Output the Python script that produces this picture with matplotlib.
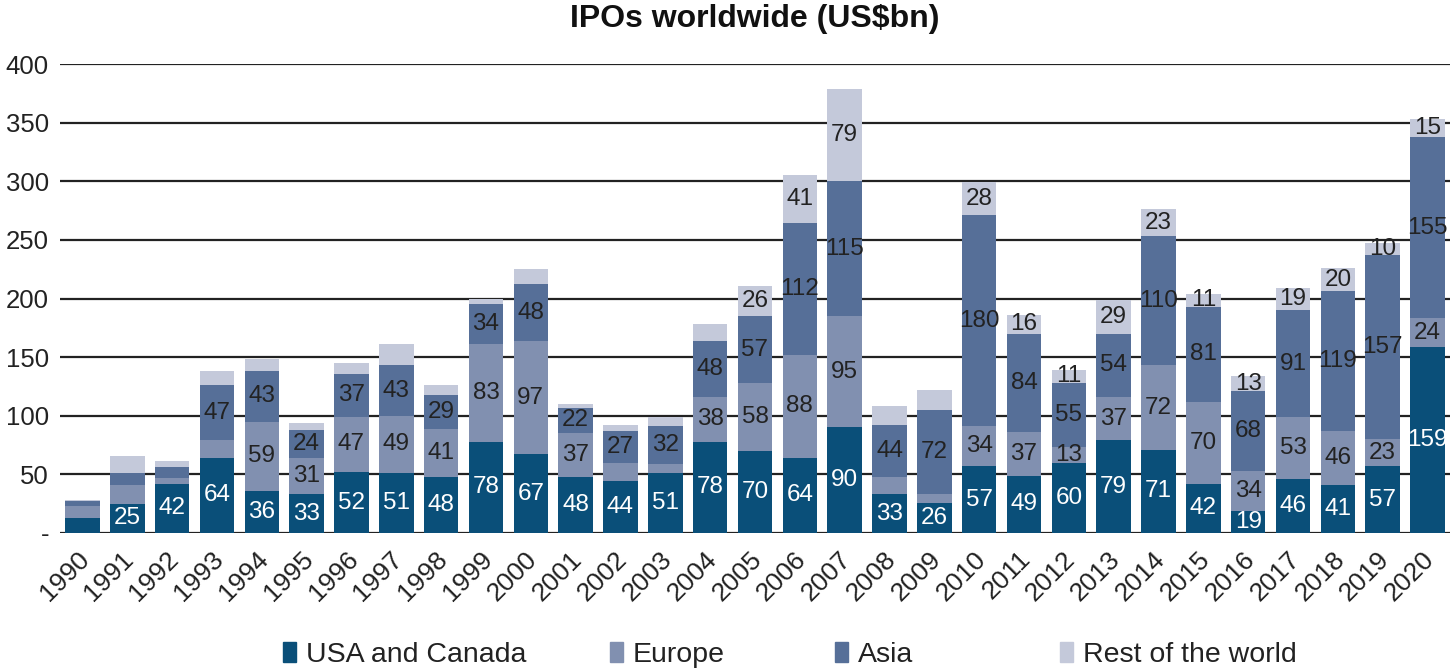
import matplotlib
matplotlib.use("Agg")
import matplotlib.pyplot as plt
from matplotlib.patches import Rectangle
from matplotlib.transforms import ScaledTranslation

plt.rcParams['font.family'] = ['Liberation Sans', 'DejaVu Sans']

years = [str(y) for y in range(1990, 2021)]
usa = [13, 25, 42, 64, 36, 33, 52, 51, 48, 78, 67, 48, 44, 51, 78, 70, 64, 90, 33, 26,
       57, 49, 60, 79, 71, 42, 19, 46, 41, 57, 159]
europe = [10, 16, 5, 15, 59, 31, 47, 49, 41, 83, 97, 37, 16, 8, 38, 58, 88, 95, 15, 7,
          34, 37, 13, 37, 72, 70, 34, 53, 46, 23, 24]
asia = [4, 10, 9, 47, 43, 24, 37, 43, 29, 34, 48, 22, 27, 32, 48, 57, 112, 115, 44, 72,
        180, 84, 55, 54, 110, 81, 68, 91, 119, 157, 155]
rest = [1, 15, 5, 12, 10, 6, 9, 18, 8, 5, 13, 3, 5, 8, 14, 26, 41, 79, 16, 17,
        28, 16, 11, 29, 23, 11, 13, 19, 20, 10, 15]

# which segment values are printed on the chart
usa_shown = [False] + [True] * 30
europe_shown = [False, False, False, False, True, True, True, True, True, True, True, True,
                False, False, True, True, True, True, False, False] + [True] * 11
asia_shown = [False, False, False] + [True] * 28
rest_shown = [False] * 15 + [True, True, True, False, False] + [True] * 11

series_names = ["USA and Canada", "Europe", "Asia", "Rest of the world"]
colors = ["#0a4f79", "#8190b0", "#566f98", "#c4c9da"]
label_colors = ["white", "#222222", "#222222", "#222222"]

W, H = 1450, 670
fig = plt.figure(figsize=(W / 100, H / 100), dpi=100)
ax = fig.add_axes([60 / W, (H - 533) / H, (W - 60) / W, (533 - 64) / H])

x = list(range(len(years)))
bottom = [0] * len(years)
all_series = [usa, europe, asia, rest]
all_shown = [usa_shown, europe_shown, asia_shown, rest_shown]
for vals, shown, c, lc, name in zip(all_series, all_shown, colors, label_colors, series_names):
    bars = ax.bar(x, vals, width=0.77, bottom=bottom, color=c, zorder=3, label=name)
    labels = [str(v) if s else "" for v, s in zip(vals, shown)]
    ax.bar_label(bars, labels=labels, label_type='center', color=lc, fontsize=17.5, zorder=4)
    bottom = [b + v for b, v in zip(bottom, vals)]

ax.set_xlim(-0.5, len(years) - 0.5)
ax.set_ylim(0, 400)
yt = list(range(0, 401, 50))
ax.set_yticks(yt)
ax.set_yticklabels(["-"] + [str(v) for v in yt[1:]], fontsize=18.5, color="#222222")
ax.yaxis.grid(True, color="#222222", linewidth=1.6, zorder=0)
ax.set_axisbelow(True)
ax.tick_params(axis='y', length=0, pad=8)
ax.set_xticks(x)
ax.set_xticklabels(years, rotation=45, ha='right', va='center', rotation_mode='anchor',
                   fontsize=19, color="#222222")
ax.tick_params(axis='x', length=0, pad=16)
off = ScaledTranslation(2 / 72, 0, fig.dpi_scale_trans)
for lab in ax.get_xticklabels():
    lab.set_transform(lab.get_transform() + off)
for s in ax.spines.values():
    s.set_visible(False)

fig.text(755 / W, 1 - 19 / H, "IPOs worldwide (US$bn)", ha='center', va='center',
         fontsize=23, fontweight='bold', color="#111111")

# legend entries
legend_x = [283, 610, 835, 1060]
for lx, name, c in zip(legend_x, series_names, colors):
    h = Rectangle((0, 0), 1, 1, color=c)
    fig.legend([h], [name], loc='center left', bbox_to_anchor=(lx / W, 1 - 655 / H),
               frameon=False, fontsize=20.5, handlelength=0.45, handleheight=0.7,
               handletextpad=0.35, borderpad=0, borderaxespad=0, labelcolor="#222222")

fig.savefig("out.png", dpi=100)
